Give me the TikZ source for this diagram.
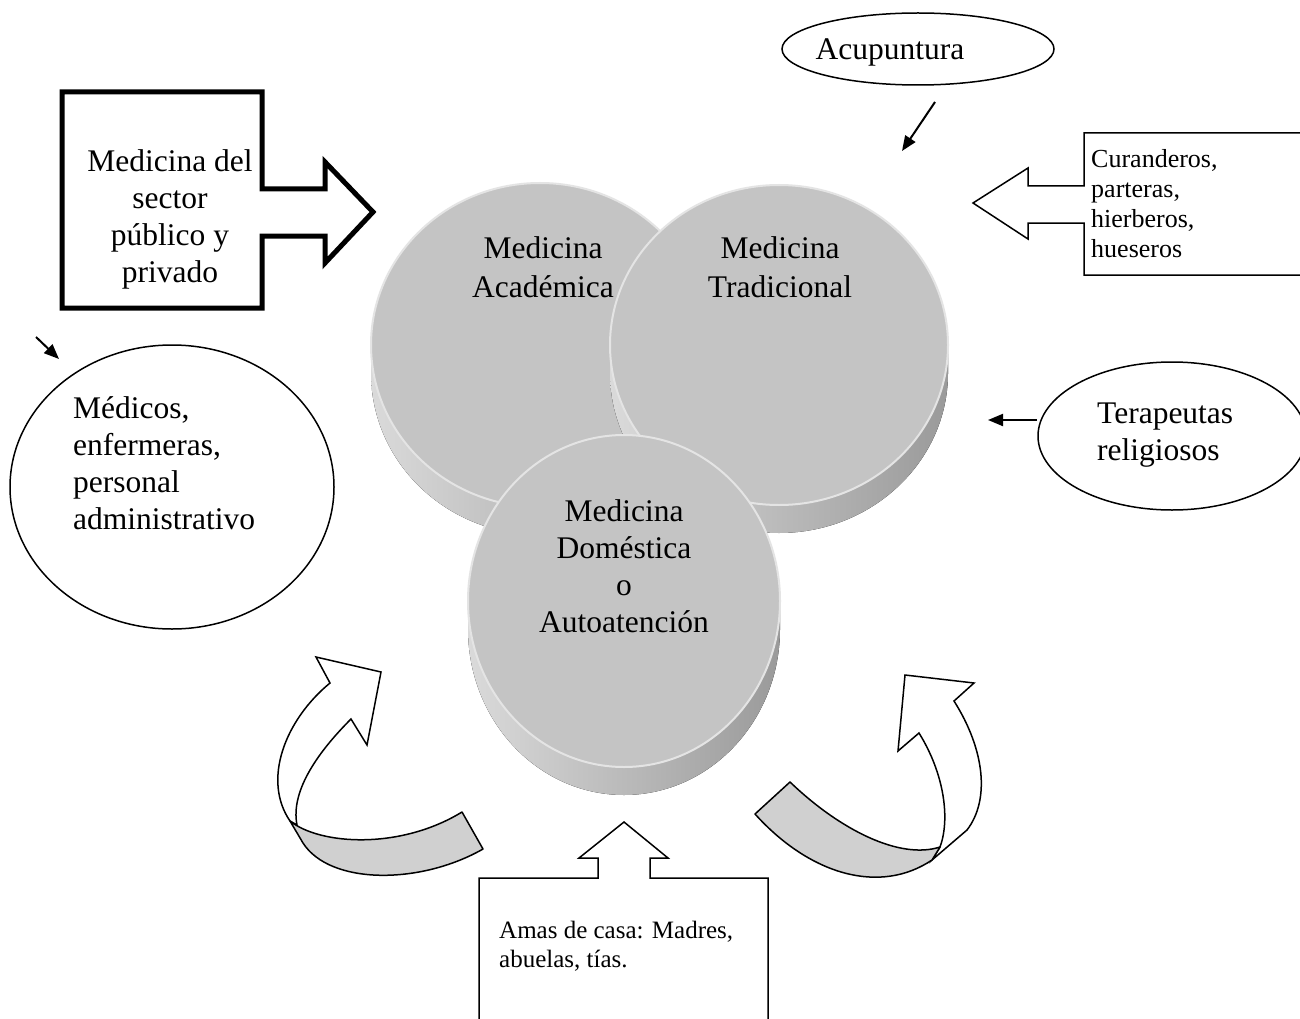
\documentclass[tikz,border=0pt]{standalone}
\usepackage{fontspec}
\setmainfont{Liberation Serif}
\usetikzlibrary{shapes.geometric,arrows.meta}
\definecolor{facegray}{HTML}{C4C4C4}
\definecolor{rimgray}{HTML}{E4E4E4}
\definecolor{sidelight}{HTML}{DADADA}
\definecolor{sidedark}{HTML}{9A9A9A}
\definecolor{bandgray}{HTML}{D0D0D0}
\tikzset{
  bigc/.style={font=\fontsize{31.5}{37}\selectfont, align=center, inner sep=0pt, anchor=north},
  bigl/.style={font=\fontsize{31.5}{37}\selectfont, align=left, inner sep=0pt, anchor=north west},
  smalll/.style={font=\fontsize{26}{30}\selectfont, align=left, inner sep=0pt, anchor=north west},
  midl/.style={font=\fontsize{25}{29}\selectfont, align=left, inner sep=0pt, anchor=north west},
  outline/.style={draw=black, line width=1.5pt, fill=white, line join=miter},
  thickoutline/.style={draw=black, line width=5pt, fill=white, line join=miter},
  face/.style={ellipse, inner sep=0pt, fill=facegray, draw=rimgray, line width=2pt},
  sideband/.style={left color=sidelight, right color=sidedark},
  band/.style={draw=black, line width=1.5pt, fill=bandgray, line join=round},
  ovalbox/.style={ellipse, draw=black, line width=1.5pt, fill=white, inner sep=0pt},
  ptr/.style={line width=2pt, -{Triangle[length=15pt,width=12pt]}},
}
\newcommand\discside[5]{%
  \fill[sideband] ({#1-#3},{#2+#5}) arc[start angle=180,end angle=0,x radius=#3,y radius=#4]
    -- ({#1+#3},#2) arc[start angle=0,end angle=180,x radius=#3,y radius=#4] -- cycle;}
\begin{document}
\begin{tikzpicture}[x=1pt,y=-1pt]
\useasboundingbox (0,0) rectangle (1300,1019);
\fill[white] (0,0) rectangle (1300,1019);

% --- discs ---
\discside{540}{345}{169}{162}{28}
\node[face, minimum width=338pt, minimum height=324pt] (acad) at (540,345) {};
\discside{779}{345}{169}{160}{28}
\node[face, minimum width=338pt, minimum height=320pt] (trad) at (779,345) {};
\discside{624}{601}{156}{166}{28}
\node[face, minimum width=312pt, minimum height=332pt] (dome) at (624,601) {};

\node[bigc, font=\fontsize{31.5}{39}\selectfont] (acadtxt) at (543,236) {Medicina\\Académica};
\node[bigc, font=\fontsize{31.5}{39}\selectfont] (tradtxt) at (780,236) {Medicina\\Tradicional};
\node[bigc] (dometxt) at (624,499) {Medicina\\Doméstica\\o\\Autoatención};

% --- public / private block arrow ---
\filldraw[thickoutline] (62,92) -- (262,92) -- (262,189) -- (325,189) -- (325,162) -- (373,212)
  -- (325,263) -- (325,236) -- (262,236) -- (262,308) -- (62,308) -- cycle;
\node[bigc] (pubtxt) at (170,149) {Medicina del\\sector\\público y\\privado};

% --- curanderos callout ---
\filldraw[outline] (1084,133) -- (1310,133) -- (1310,275) -- (1084,275) -- (1084,223) -- (1028,223)
  -- (1028,239) -- (973,203) -- (1028,168) -- (1028,186) -- (1084,186) -- cycle;
\node[smalll] (curtxt) at (1091,149) {Curanderos,\\parteras,\\hierberos,\\hueseros};

% --- amas de casa callout ---
\filldraw[outline] (479,1030) -- (479,878) -- (598,878) -- (598,858) -- (579,858) -- (624,822)
  -- (668,858) -- (650,858) -- (650,878) -- (768,878) -- (768,1030);
\node[midl] (amastxt) at (499,921) {Amas de casa: Madres,\\abuelas, tías.};

% --- ellipses ---
\node[ovalbox, minimum width=272pt, minimum height=72pt] (acu) at (918,49) {};
\node[bigc] (acutxt) at (890,39) {Acupuntura};
\node[ovalbox, minimum width=268pt, minimum height=148pt] (tera) at (1172,436) {};
\node[bigl] (teratxt) at (1097,403) {Terapeutas\\religiosos};
\node[ovalbox, minimum width=324pt, minimum height=284pt] (medi) at (172,487) {};
\node[bigl] (meditxt) at (73,396) {Médicos,\\enfermeras,\\personal\\administrativo};

% --- small arrows ---
\coordinate (a1s) at (935,102); \coordinate (a1e) at (902,151);
\draw[ptr] (a1s) -- (a1e);
\coordinate (a2s) at (36,337); \coordinate (a2e) at (59,359);
\draw[ptr] (a2s) -- (a2e);
\coordinate (a3s) at (1037,420); \coordinate (a3e) at (988,420);
\draw[ptr] (a3s) -- (a3e);

% --- left curved arrow ---
\filldraw[outline] (290,821) .. controls (262,780) and (285,720) .. (330,683) -- (316,657) -- (381,672)
  -- (367,745) -- (351,719) .. controls (320,750) and (290,790) .. (297,825) -- cycle;
\filldraw[band] (290,821) .. controls (320,845) and (400,850) .. (462,812) -- (483,849)
  .. controls (420,885) and (330,885) .. (303,843) -- cycle;

% --- right curved arrow ---
\filldraw[outline] (940,847) .. controls (950,820) and (945,775) .. (919,733) -- (898,751) -- (905,675)
  -- (974,683) -- (954,701) .. controls (985,750) and (990,800) .. (967,830) -- (932,860) -- cycle;
\filldraw[band] (790,782) .. controls (840,830) and (900,860) .. (940,847) -- (932,860)
  .. controls (880,895) and (810,875) .. (755,814) -- cycle;
\end{tikzpicture}
\end{document}
